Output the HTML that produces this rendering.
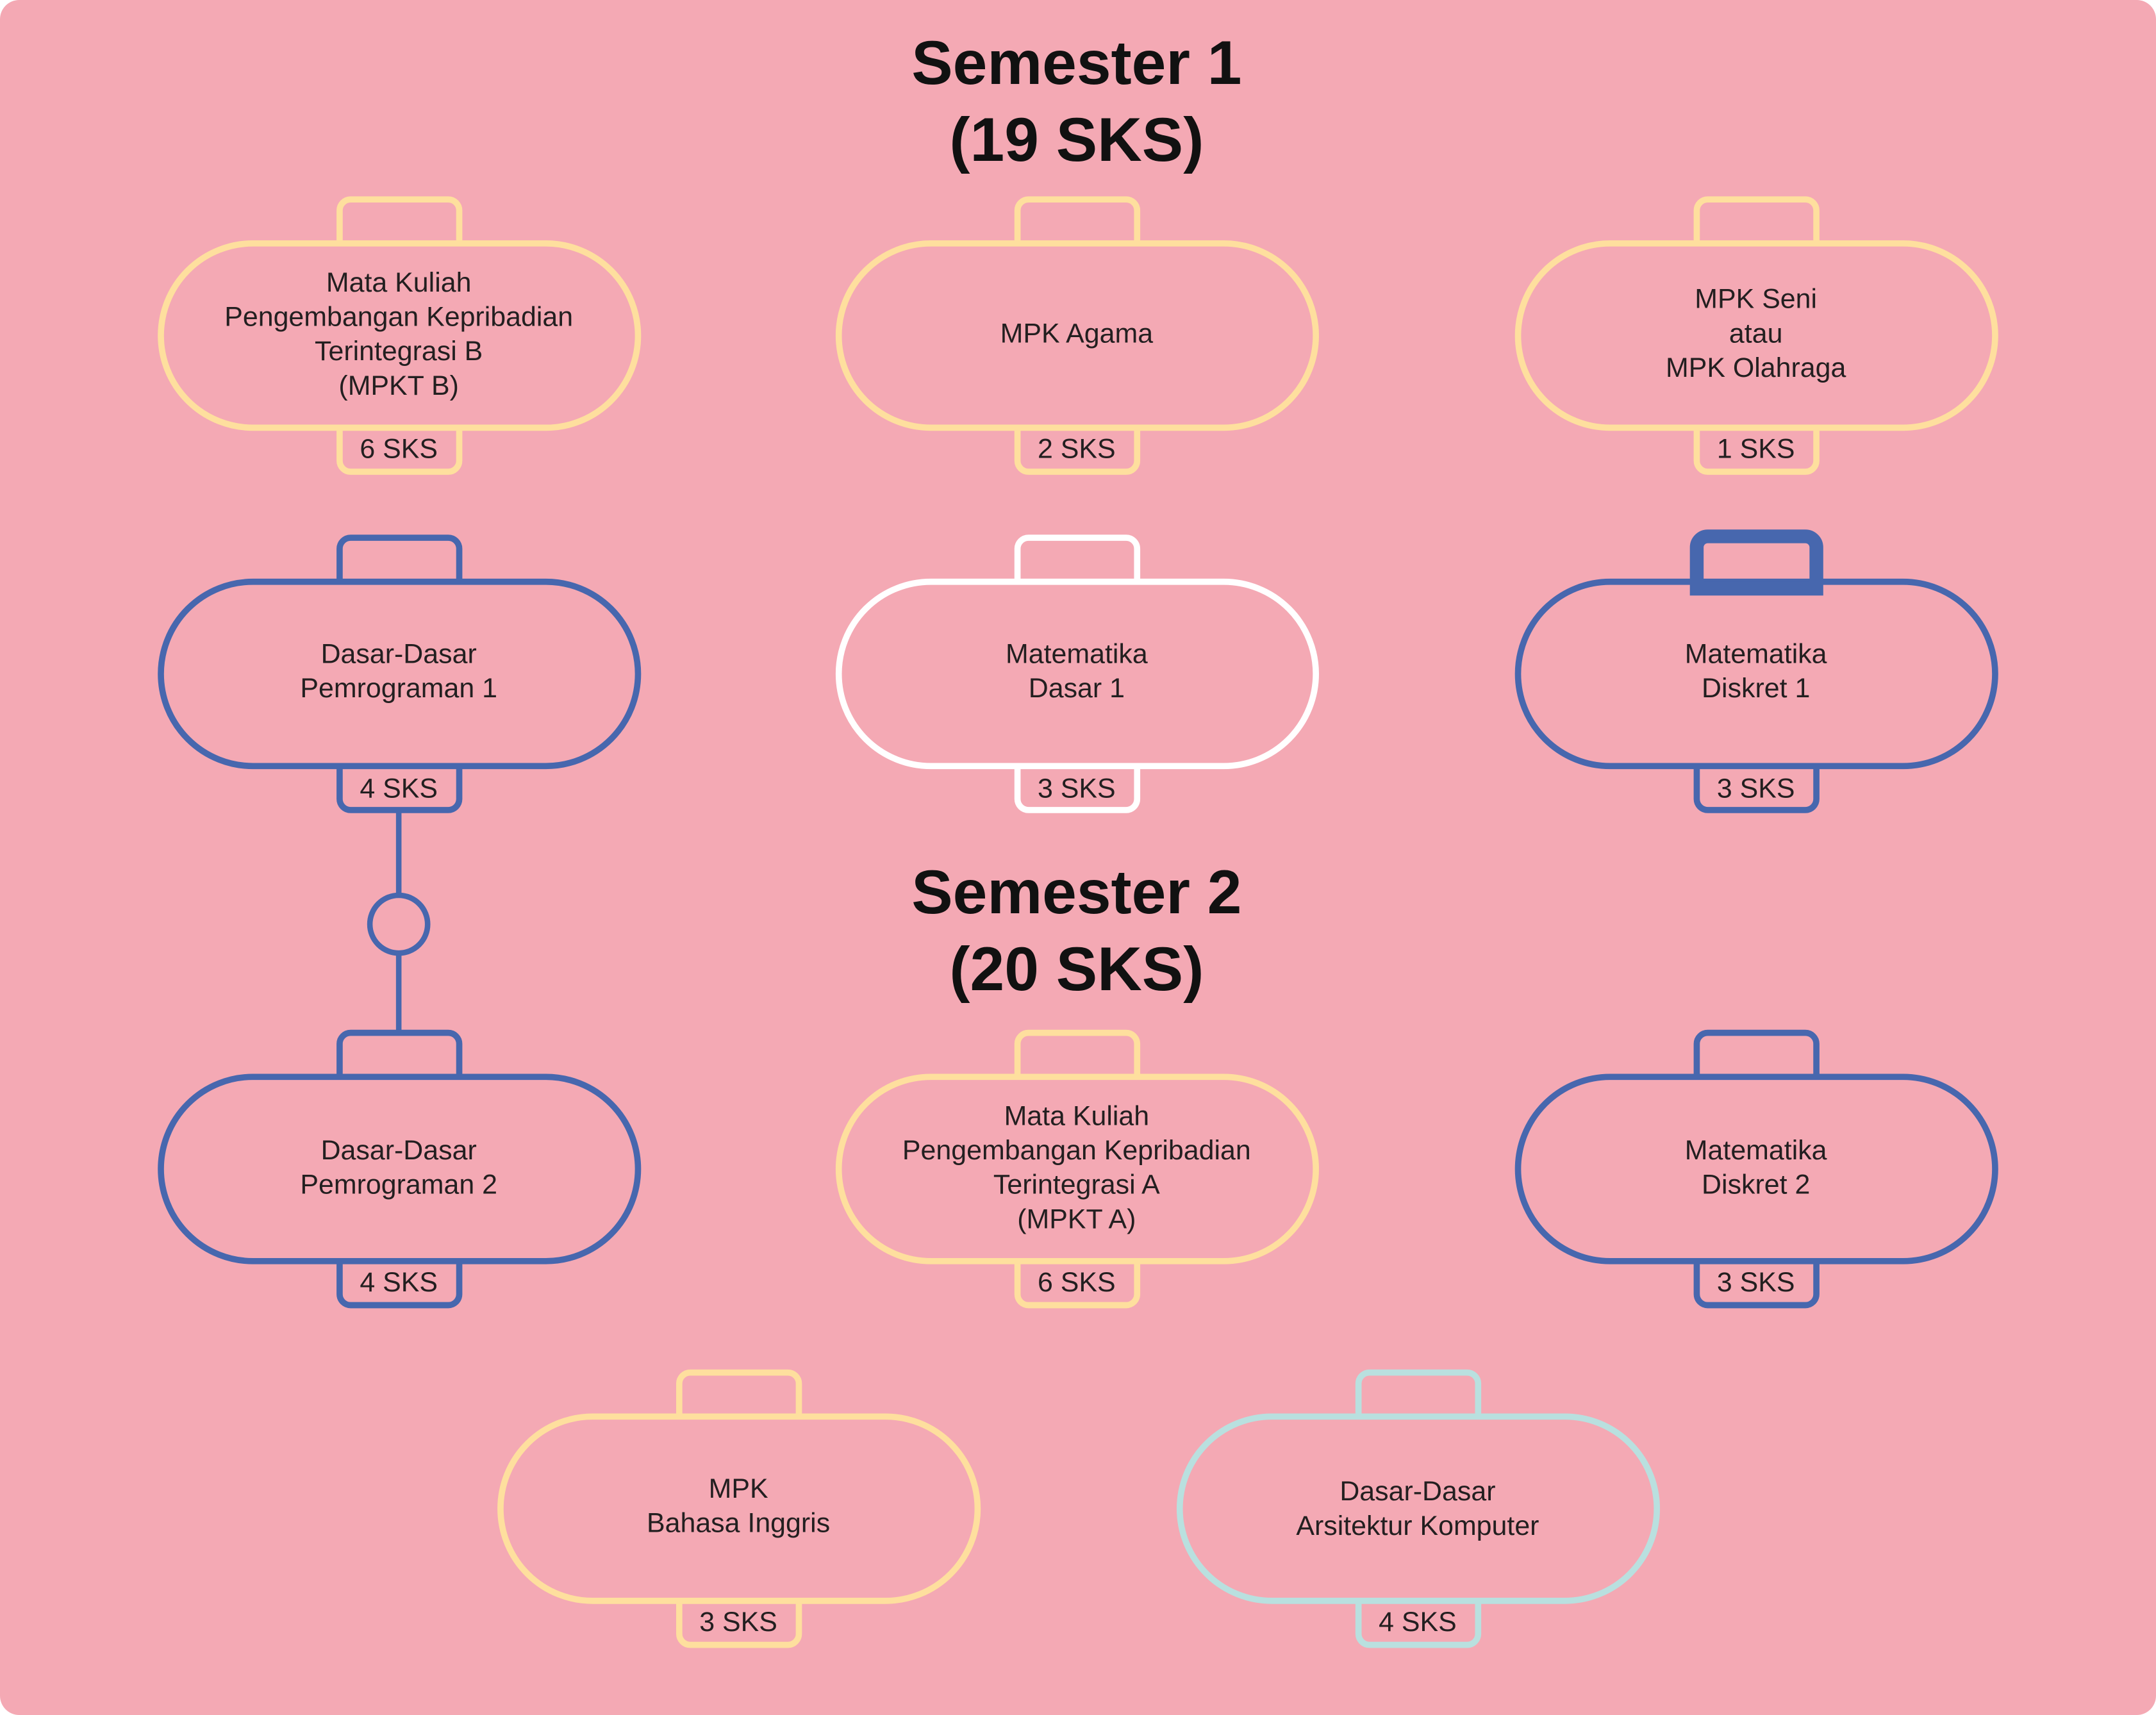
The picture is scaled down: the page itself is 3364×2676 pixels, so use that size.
<!DOCTYPE html>
<html><head><meta charset="utf-8"><style>
html,body{margin:0;padding:0;background:#fff;}
svg{display:block;}
text{font-family:"Liberation Sans","DejaVu Sans",sans-serif;fill:#231f20;text-anchor:middle;}
.t{font-size:20px;}
.h{font-size:45px;font-weight:bold;fill:#111;}
</style></head><body>
<svg width="3364" height="2676" viewBox="0 0 1568 1247" preserveAspectRatio="none" xmlns="http://www.w3.org/2000/svg">
<rect x="0" y="0" width="1568" height="1247" rx="14" fill="#f4a9b4"/>
<text class="h" x="783" y="61">Semester 1</text>
<text class="h" x="783" y="117">(19 SKS)</text>
<text class="h" x="783" y="664">Semester 2</text>
<text class="h" x="783" y="720">(20 SKS)</text>

<g stroke="#4767ae" stroke-width="4" fill="none">
<line x1="290" y1="590" x2="290" y2="651"/>
<circle cx="290" cy="672" r="21"/>
<line x1="290" y1="693" x2="290" y2="752"/>
</g>

<g stroke="#fedf9e" stroke-width="4.5" fill="none">
<path d="M247,177 V153 a8,8 0 0 1 8,-8 H326 a8,8 0 0 1 8,8 V177"/>
<path d="M247,311 V335 a8,8 0 0 0 8,8 H326 a8,8 0 0 0 8,-8 V311"/>
<rect x="117" y="177" width="347" height="134" rx="67"/>
<path d="M740,177 V153 a8,8 0 0 1 8,-8 H819 a8,8 0 0 1 8,8 V177"/>
<path d="M740,311 V335 a8,8 0 0 0 8,8 H819 a8,8 0 0 0 8,-8 V311"/>
<rect x="610" y="177" width="347" height="134" rx="67"/>
<path d="M1234,177 V153 a8,8 0 0 1 8,-8 H1313 a8,8 0 0 1 8,8 V177"/>
<path d="M1234,311 V335 a8,8 0 0 0 8,8 H1313 a8,8 0 0 0 8,-8 V311"/>
<rect x="1104" y="177" width="347" height="134" rx="67"/>
</g>
<text class="t" x="290" y="212">Mata Kuliah</text>
<text class="t" x="290" y="237">Pengembangan Kepribadian</text>
<text class="t" x="290" y="262">Terintegrasi B</text>
<text class="t" x="290" y="287">(MPKT B)</text>
<text class="t" x="290" y="333">6 SKS</text>
<text class="t" x="783" y="249">MPK Agama</text>
<text class="t" x="783" y="333">2 SKS</text>
<text class="t" x="1277" y="224">MPK Seni</text>
<text class="t" x="1277" y="249">atau</text>
<text class="t" x="1277" y="274">MPK Olahraga</text>
<text class="t" x="1277" y="333">1 SKS</text>

<g stroke="#4767ae" stroke-width="4.5" fill="none">
<path d="M247,423 V399 a8,8 0 0 1 8,-8 H326 a8,8 0 0 1 8,8 V423"/>
<path d="M247,557 V581 a8,8 0 0 0 8,8 H326 a8,8 0 0 0 8,-8 V557"/>
<rect x="117" y="423" width="347" height="134" rx="67"/>
<path d="M1234,557 V581 a8,8 0 0 0 8,8 H1313 a8,8 0 0 0 8,-8 V557"/>
<rect x="1104" y="423" width="347" height="134" rx="67"/>
<path d="M1234,428 V398 a8,8 0 0 1 8,-8 H1313 a8,8 0 0 1 8,8 V428 Z" stroke-width="10"/>
</g>
<g stroke="#ffffff" stroke-width="4.5" fill="none">
<path d="M740,423 V399 a8,8 0 0 1 8,-8 H819 a8,8 0 0 1 8,8 V423"/>
<path d="M740,557 V581 a8,8 0 0 0 8,8 H819 a8,8 0 0 0 8,-8 V557"/>
<rect x="610" y="423" width="347" height="134" rx="67"/>
</g>
<text class="t" x="290" y="482">Dasar-Dasar</text>
<text class="t" x="290" y="507">Pemrograman 1</text>
<text class="t" x="290" y="580">4 SKS</text>
<text class="t" x="783" y="482">Matematika</text>
<text class="t" x="783" y="507">Dasar 1</text>
<text class="t" x="783" y="580">3 SKS</text>
<text class="t" x="1277" y="482">Matematika</text>
<text class="t" x="1277" y="507">Diskret 1</text>
<text class="t" x="1277" y="580">3 SKS</text>

<g stroke="#4767ae" stroke-width="4.5" fill="none">
<path d="M247,783 V759 a8,8 0 0 1 8,-8 H326 a8,8 0 0 1 8,8 V783"/>
<path d="M247,917 V941 a8,8 0 0 0 8,8 H326 a8,8 0 0 0 8,-8 V917"/>
<rect x="117" y="783" width="347" height="134" rx="67"/>
<path d="M1234,783 V759 a8,8 0 0 1 8,-8 H1313 a8,8 0 0 1 8,8 V783"/>
<path d="M1234,917 V941 a8,8 0 0 0 8,8 H1313 a8,8 0 0 0 8,-8 V917"/>
<rect x="1104" y="783" width="347" height="134" rx="67"/>
</g>
<g stroke="#fedf9e" stroke-width="4.5" fill="none">
<path d="M740,783 V759 a8,8 0 0 1 8,-8 H819 a8,8 0 0 1 8,8 V783"/>
<path d="M740,917 V941 a8,8 0 0 0 8,8 H819 a8,8 0 0 0 8,-8 V917"/>
<rect x="610" y="783" width="347" height="134" rx="67"/>
</g>
<text class="t" x="290" y="843">Dasar-Dasar</text>
<text class="t" x="290" y="868">Pemrograman 2</text>
<text class="t" x="290" y="939">4 SKS</text>
<text class="t" x="783" y="818">Mata Kuliah</text>
<text class="t" x="783" y="843">Pengembangan Kepribadian</text>
<text class="t" x="783" y="868">Terintegrasi A</text>
<text class="t" x="783" y="893">(MPKT A)</text>
<text class="t" x="783" y="939">6 SKS</text>
<text class="t" x="1277" y="843">Matematika</text>
<text class="t" x="1277" y="868">Diskret 2</text>
<text class="t" x="1277" y="939">3 SKS</text>

<g stroke="#fedf9e" stroke-width="4.5" fill="none">
<path d="M494,1030 V1006 a8,8 0 0 1 8,-8 H573 a8,8 0 0 1 8,8 V1030"/>
<path d="M494,1164 V1188 a8,8 0 0 0 8,8 H573 a8,8 0 0 0 8,-8 V1164"/>
<rect x="364" y="1030" width="347" height="134" rx="67"/>
</g>
<g stroke="#b9e0df" stroke-width="4.5" fill="none">
<path d="M988,1030 V1006 a8,8 0 0 1 8,-8 H1067 a8,8 0 0 1 8,8 V1030"/>
<path d="M988,1164 V1188 a8,8 0 0 0 8,8 H1067 a8,8 0 0 0 8,-8 V1164"/>
<rect x="858" y="1030" width="347" height="134" rx="67"/>
</g>
<text class="t" x="537" y="1089">MPK</text>
<text class="t" x="537" y="1114">Bahasa Inggris</text>
<text class="t" x="537" y="1186">3 SKS</text>
<text class="t" x="1031" y="1091">Dasar-Dasar</text>
<text class="t" x="1031" y="1116">Arsitektur Komputer</text>
<text class="t" x="1031" y="1186">4 SKS</text>
</svg>
</body></html>
